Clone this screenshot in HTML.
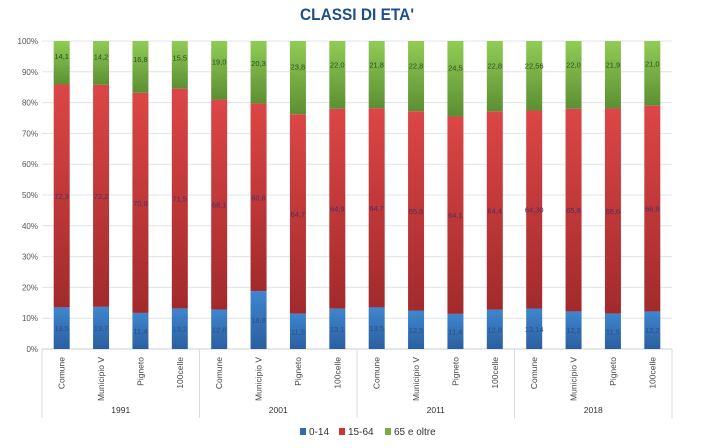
<!DOCTYPE html>
<html><head><meta charset="utf-8">
<style>
body{margin:0;background:#fff;}
svg{display:block;font-family:"Liberation Sans",sans-serif;}
</style></head>
<body>
<svg id="chart" width="714" height="448" viewBox="0 0 714 448">
<defs>
<linearGradient id="gb" x1="0" y1="0" x2="0" y2="1"><stop offset="0" stop-color="#3f86cf"/><stop offset="1" stop-color="#2a5f9f"/></linearGradient>
<linearGradient id="gr" x1="0" y1="0" x2="0" y2="1"><stop offset="0" stop-color="#dc4646"/><stop offset="1" stop-color="#a22a2c"/></linearGradient>
<linearGradient id="gg" x1="0" y1="0" x2="0" y2="1"><stop offset="0" stop-color="#90cc55"/><stop offset="1" stop-color="#5c8f33"/></linearGradient>
</defs>
<text x="357" y="20" text-anchor="middle" font-size="17" font-weight="bold" fill="#1f4e8c" textLength="114" lengthAdjust="spacingAndGlyphs">CLASSI DI ETA'</text>
<g id="grid"></g><g id="bars"></g><g id="axis"></g>
<g font-size="10" fill="#333">
<rect x="300" y="428" width="6" height="7" fill="#2e6db4"/>
<text x="309" y="435">0-14</text>
<rect x="339" y="428" width="6" height="7" fill="#c33"/>
<text x="348" y="435">15-64</text>
<rect x="385" y="428" width="6" height="7" fill="#76b042"/>
<text x="394" y="435">65 e oltre</text>
</g>
</svg>
<script>
const years=["1991","2001","2011","2018"];
const places=["Comune","Municipio V","Pigneto","100celle"];
const young=[13.5,13.7,11.7,13.2, 12.8,18.8,11.5,13.1, 13.5,12.5,11.4,12.8, 13.14,12.2,11.5,12.2];
const young_labels=["13,5","13,7","11,4","13,2","12,8","18,8","11,5","13,1","13,5","12,5","11,4","12,8","13,14","12,2","11,5","12,2"];
const adult=[72.3,72.2,71.4,71.5, 68.1,60.8,64.7,64.9, 64.7,64.7,64.1,64.4, 64.30,65.8,66.6,66.8];
const adult_labels=["72,3","72,2","70,0","71,5","68,1","60,8","64,7","64,9","64,7","65,6","64,1","64,4","64,30","65,8","66,6","66,8"];
const old=[14.1,14.2,16.8,15.5, 19.0,20.3,23.8,22.0, 21.8,22.8,24.5,22.8, 22.56,22.0,21.9,21.0];
const old_labels=["14,1","14,2","16,8","15,5","19,0","20,3","23,8","22,0","21,8","22,8","24,5","22,8","22,56","22,0","21,9","21,0"];
const ticks=[0,10,20,30,40,50,60,70,80,90,100];
const NS="http://www.w3.org/2000/svg";
const X0=42,X1=672,Y0=349,Y1=41,n=young.length,step=(X1-X0)/n,bw=16;
const y=v=>Y0-(Y0-Y1)*v/100;
const xc=i=>X0+step*(i+0.5);
function mk(t,a,p){const e=document.createElementNS(NS,t);for(const k in a)e.setAttribute(k,a[k]);p.appendChild(e);return e;}
const grid=document.getElementById('grid'),bars=document.getElementById('bars'),axis=document.getElementById('axis');
ticks.forEach(t=>{
  const l=mk('line',{x1:X0,x2:X1,y1:y(t),y2:y(t),stroke:t?'#dfe3ea':'#c8d0dc','stroke-width':1},grid);
  
  
  const tx=mk('text',{x:38,y:y(t)+3,'text-anchor':'end','font-size':8,fill:'#555'},grid);
  tx.textContent=t+'%';
  
  
});
for(let i=0;i<n;i++){
  const s=young[i]+adult[i]+old[i];
  const segs=[[young[i],'gb',young_labels[i],'#2b4f85','young'],[adult[i],'gr',adult_labels[i],'#4a3060','adult'],[old[i],'gg',old_labels[i],'#2f4d1e','old']];
  let acc=0;
  segs.forEach((sg,k)=>{
    const v=sg[0]/s*100;
    const top=y(acc+v),bot=y(acc);
    const r=mk('rect',{x:xc(i)-bw/2,y:top,width:bw,height:bot-top,fill:'url(#'+sg[1]+')'},bars);
    
    
    const ly=k==2?top+(bot-top)*0.35:(top+bot)/2;
    const t=mk('text',{x:xc(i),y:ly+3,'text-anchor':'middle','font-size':7.5,fill:sg[3]},bars);
    t.textContent=sg[2];
    
    
    acc+=v;
  });
  const ct=mk('text',{transform:'translate('+(xc(i)+3)+',357) rotate(-90)','text-anchor':'end','font-size':8.5,fill:'#444'},axis);
  ct.textContent=places[i%4];
  
  
}
for(let g=0;g<=years.length;g++){
  const xx=X0+step*4*g;
  const l=mk('line',{x1:xx,x2:xx,y1:Y0,y2:418,stroke:'#d5dbe4'},axis);
  
  
}
years.forEach((yr,g)=>{
  const t=mk('text',{x:X0+step*(4*g+2),y:413,'text-anchor':'middle','font-size':8.5,fill:'#333'},axis);
  t.textContent=yr;
  
  
});
</script>
</body></html>
